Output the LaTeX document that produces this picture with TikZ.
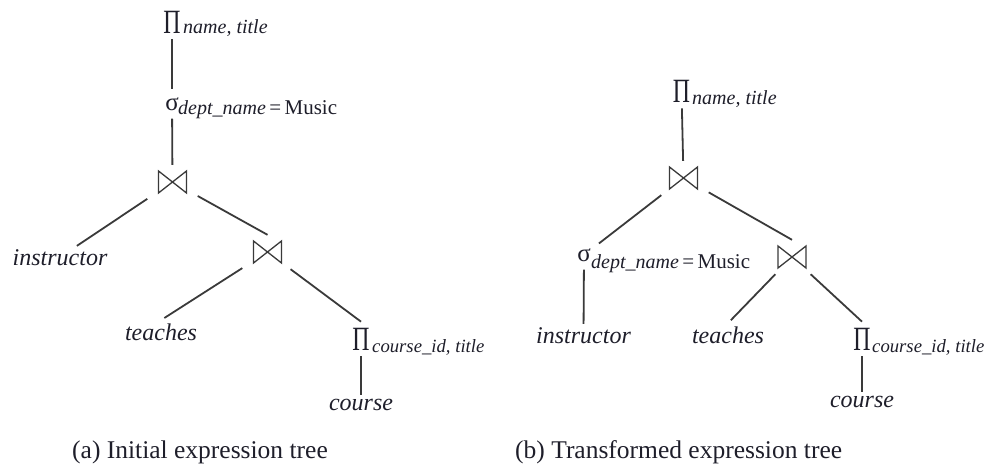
\documentclass[tikz,border=0pt]{standalone}
\usepackage{fontspec}
\setmainfont{Liberation Serif}
\usepackage{tikz}
\usetikzlibrary{positioning,calc}
\definecolor{trline}{HTML}{3A3A3A}
\definecolor{trtext}{HTML}{1E1E2A}
\newcommand{\prj}{\scalebox{0.7}[1]{\fontsize{34}{34}\selectfont Π}}
\newcommand{\sel}{{\fontsize{25}{25}\selectfont σ}}
\newcommand{\eqmusic}{{\upshape\fontsize{21}{21}\selectfont =\,Music}}

\begin{document}
\begin{tikzpicture}[
  x=1pt, y=-1pt,
  text=trtext,
  op/.style={inner sep=6pt},
  jop/.style={minimum width=50pt, minimum height=34pt, inner sep=0pt,
              path picture={
                \draw[trline, line width=1.3pt, line join=miter]
                  ([shift={(-14pt,11pt)}]path picture bounding box.center)
                  -- ([shift={(14pt,-11pt)}]path picture bounding box.center)
                  -- ([shift={(14pt,11pt)}]path picture bounding box.center)
                  -- ([shift={(-14pt,-11pt)}]path picture bounding box.center)
                  -- cycle;}},
  sub/.style={anchor=base west, inner sep=0pt,
              font=\fontsize{20}{20}\selectfont\itshape},
  subw/.style={sub, font=\fontsize{18.7}{18.7}\selectfont\itshape},
  rel/.style={anchor=base, inner sep=3pt,
              font=\fontsize{24}{24}\selectfont\itshape},
  captext/.style={anchor=base west, inner sep=0pt,
              font=\fontsize{25.5}{25.5}\selectfont},
  edge/.style={draw=trline, line width=1.8pt},
]
  \useasboundingbox (0,0) rectangle (987,465);

  % (a) initial tree
  \node[op]  (pA)  at (172,22)    {\prj};
  \node[sub] (pAs) at (183,34)    {name, title};
  \node[op, inner sep=8pt] (sA) at (172,104) {\sel};
  \node[sub] (sAs) at (178,115)   {dept\_name\,\eqmusic};
  \node[jop] (jA1) at (172.5,182) {};
  \node[rel] (iA)  at (60,265)    {instructor};
  \node[jop] (jA2) at (267.5,252) {};
  \node[rel] (tA)  at (161,340)   {teaches};
  \node[op]  (pA2) at (361,339)   {\prj};
  \node[subw] (pA2s) at (372,352) {course\_id, title};
  \node[rel] (cA)  at (361,410)   {course};

  \draw[edge] (pA) -- (sA);
  \draw[edge] (sA) -- (jA1);
  \draw[edge] (jA1) -- (iA);
  \draw[edge] (jA1) -- (jA2.north);
  \draw[edge, shorten >=4pt] (jA2) -- (tA.north);
  \draw[edge] (jA2) -- (pA2.north);
  \draw[edge] (pA2) -- (cA);

  % (b) transformed tree
  \node[op]  (pB)  at (681.5,91)  {\prj};
  \node[sub] (pBs) at (692,105)   {name, title};
  \node[jop] (jB1) at (683.5,178) {};
  \node[op, inner sep=8pt] (sB) at (584,255) {\sel};
  \node[sub] (sBs) at (591,268)   {dept\_name\,\eqmusic};
  \node[rel] (iB)  at (583.5,343) {instructor};
  \node[jop] (jB2) at (792,257)   {};
  \node[rel] (tB)  at (728,343)   {teaches};
  \node[op]  (pB2) at (862,339)   {\prj};
  \node[subw] (pB2s) at (872,352) {course\_id, title};
  \node[rel] (cB)  at (862,407)   {course};

  \draw[edge] (pB) -- (jB1);
  \draw[edge] (jB1) -- (sB);
  \draw[edge] (jB1) -- (jB2.north);
  \draw[edge] (sB) -- (iB);
  \draw[edge, shorten >=4pt] (jB2) -- (tB.north);
  \draw[edge] (jB2) -- (pB2.north);
  \draw[edge] (pB2) -- (cB);

  \node[captext] (capA) at (72,458)  {(a) Initial expression tree};
  \node[captext] (capB) at (515,458) {(b) Transformed expression tree};
\end{tikzpicture}
\end{document}
